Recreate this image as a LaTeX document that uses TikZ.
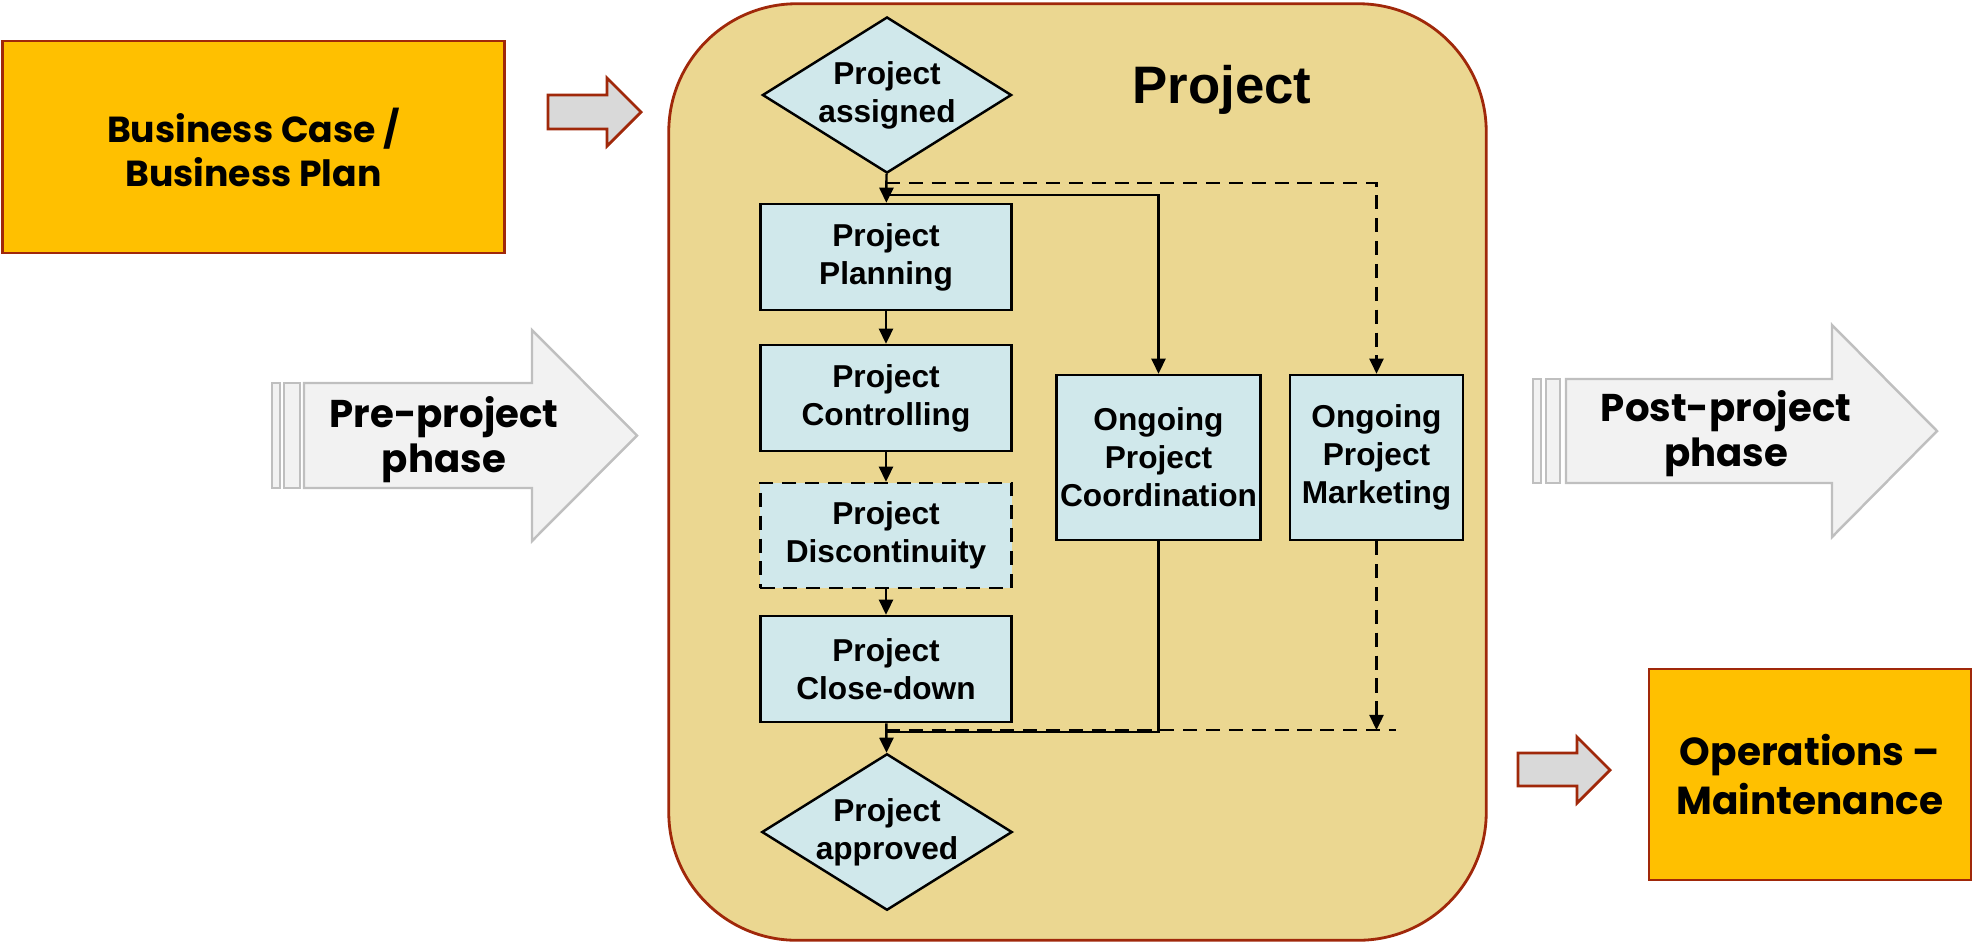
\documentclass[tikz,border=0pt]{standalone}
\usepackage{fontspec}
\usetikzlibrary{arrows.meta,shapes.geometric}
\newfontfamily\flowfont{Liberation Sans}
\newfontfamily\gothfont{Poppins}
\definecolor{projtan}{RGB}{235,215,145}
\definecolor{rustred}{RGB}{160,40,10}
\definecolor{flowblue}{RGB}{208,232,235}
\definecolor{caseorange}{RGB}{255,192,0}
\definecolor{pushgray}{RGB}{217,217,217}
\definecolor{phasefill}{RGB}{242,242,242}
\definecolor{phaseline}{RGB}{191,191,191}
\begin{document}
\begin{tikzpicture}[x=0.01cm,y=-0.01cm,
  stage/.style={draw, fill=flowblue, line width=0.7pt, minimum width=2.51cm, align=center, inner sep=1pt, font=\flowfont\bfseries\fontsize{9}{10.8}\selectfont},
  gate/.style={stage, diamond, aspect=1.6, minimum width=2.49cm, minimum height=1.56cm, inner sep=0pt},
  flow/.style={draw, line width=0.7pt, -{Triangle[length=4.3pt,width=4pt]}},
  link/.style={draw, line width=0.7pt},
  dashline/.style={dash pattern=on 4pt off 2.5pt},
  casebox/.style={draw=rustred, fill=caseorange, line width=0.8pt, align=center, font=\gothfont\bfseries\fontsize{10.3}{12.5}\selectfont},
  push/.style={draw=rustred, fill=pushgray, line width=0.8pt},
  phasearrow/.style={draw=phaseline, fill=phasefill, line width=0.7pt},
  phasetext/.style={align=center, font=\gothfont\bfseries\fontsize{11}{12.8}\selectfont}]
\useasboundingbox (0,0) rectangle (1972,944);
% project frame
\node[draw=rustred, fill=projtan, line width=0.8pt, rounded corners=1.28cm, minimum width=8.17cm, minimum height=9.36cm] (proj) at (1077.5,472) {};
\node[anchor=base, font=\flowfont\bfseries\fontsize{15}{18}\selectfont] (title) at (1222,103) {Project};
% flow inside the project
\node[gate] (assigned) at (887,95) {Project\\assigned};
\node[stage, minimum height=1.06cm] (plan) at (886,257) {Project\\Planning};
\node[stage, minimum height=1.06cm] (ctrl) at (886,398) {Project\\Controlling};
\node[stage, dashline, minimum height=1.05cm] (disc) at (886,535.5) {Project\\Discontinuity};
\node[stage, minimum height=1.06cm] (close) at (886,669) {Project\\Close-down};
\node[gate] (approved) at (887,832) {Project\\approved};
\node[stage, minimum width=2.03cm, minimum height=1.65cm] (coord) at (1158.5,457.5) {Ongoing\\Project\\Coordination};
\node[stage, minimum width=1.73cm, minimum height=1.65cm] (market) at (1376.5,457.5) {Ongoing\\Project\\Marketing};
\coordinate (fork1) at (886,195);
\coordinate (fork2) at (886,183);
\coordinate (join1) at (886,732);
\coordinate (join2) at (886,730);
\coordinate (join3) at (1396,730);
\path[flow] (assigned) -- (plan);
\path[flow] (plan) -- (ctrl);
\path[flow] (ctrl) -- (disc);
\path[flow] (disc) -- (close);
\path[flow] (close) -- (approved);
\path[flow] (fork1) -| (coord.north);
\path[flow,dashline] (fork2) -| (market.north);
\path[link] (coord.south) |- (join1);
\path[link,dashline] (join2) -- (join3);
\path[flow,dashline] (market.south) -- (market.south |- join3);
% outside boxes
\node[casebox, minimum width=5.01cm, minimum height=2.12cm] (case) at (253.5,147) {Business Case /\\Business Plan};
\node[casebox, font=\gothfont\bfseries\fontsize{11.1}{14.2}\selectfont, minimum width=3.22cm, minimum height=2.11cm] (ops) at (1810,774.5) {Operations –\\Maintenance};
\path[push] (548,95) -- (607,95) -- (607,78) -- (641,112) -- (607,146) -- (607,129) -- (548,129) -- cycle;
\path[push] (1518,753) -- (1577,753) -- (1577,737) -- (1610,770) -- (1577,803) -- (1577,786) -- (1518,786) -- cycle;
% phase arrows
\path[phasearrow] (272,383) rectangle (280,488);
\path[phasearrow] (284,383) rectangle (300,488);
\path[phasearrow] (304,383) -- (532,383) -- (532,330) -- (637,435.5) -- (532,541) -- (532,488) -- (304,488) -- cycle;
\node[phasetext] (pre) at (444,440) {Pre-project\\phase};
\path[phasearrow] (1533,379) rectangle (1541,483);
\path[phasearrow] (1546,379) rectangle (1560,483);
\path[phasearrow] (1566,379) -- (1832,379) -- (1832,325) -- (1937,431) -- (1832,537) -- (1832,483) -- (1566,483) -- cycle;
\node[phasetext] (post) at (1726,434) {Post-project\\phase};
\end{tikzpicture}
\end{document}
